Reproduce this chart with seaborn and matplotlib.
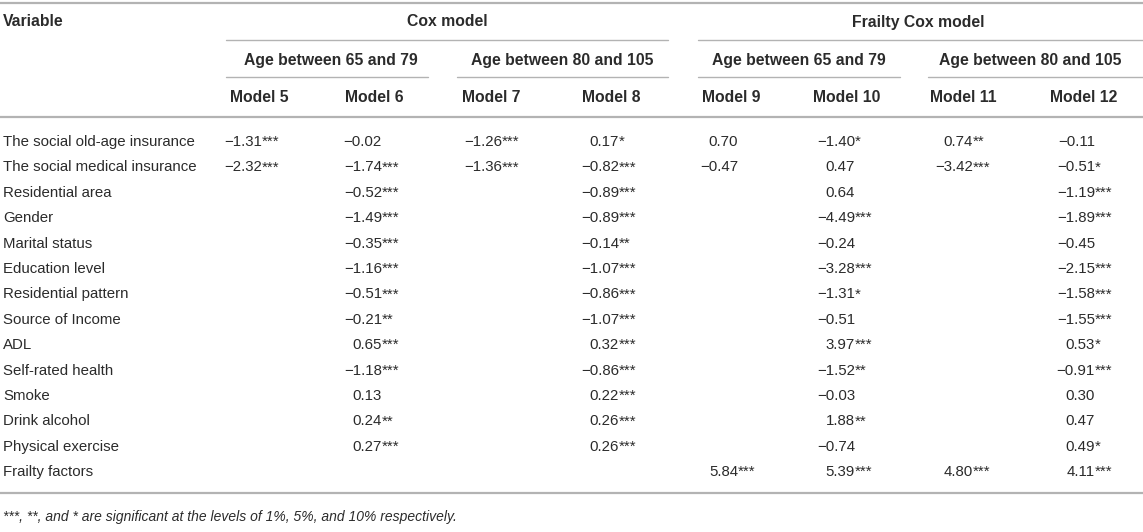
import matplotlib
matplotlib.use("Agg")
import matplotlib.pyplot as plt
import seaborn as sns
import pandas as pd

sns.set_theme(style="white")
plt.rcParams['font.family'] = ['Liberation Sans', 'DejaVu Sans']

# 표 데이터
variables = [
    'The social old-age insurance', 'The social medical insurance',
    'Residential area', 'Gender', 'Marital status', 'Education level',
    'Residential pattern', 'Source of Income', 'ADL', 'Self-rated health',
    'Smoke', 'Drink alcohol', 'Physical exercise', 'Frailty factors',
]
models = ['Model 5', 'Model 6', 'Model 7', 'Model 8',
          'Model 9', 'Model 10', 'Model 11', 'Model 12']

model5 = ['−1.31***', '−2.32***', '', '', '', '', '', '', '', '', '', '', '', '']
model6 = ['−0.02', '−1.74***', '−0.52***', '−1.49***', '−0.35***', '−1.16***',
          '−0.51***', '−0.21**', '0.65***', '−1.18***', '0.13', '0.24**', '0.27***', '']
model7 = ['−1.26***', '−1.36***', '', '', '', '', '', '', '', '', '', '', '', '']
model8 = ['0.17*', '−0.82***', '−0.89***', '−0.89***', '−0.14**', '−1.07***',
          '−0.86***', '−1.07***', '0.32***', '−0.86***', '0.22***', '0.26***', '0.26***', '']
model9 = ['0.70', '−0.47', '', '', '', '', '', '', '', '', '', '', '', '5.84***']
model10 = ['−1.40*', '0.47', '0.64', '−4.49***', '−0.24', '−3.28***',
           '−1.31*', '−0.51', '3.97***', '−1.52**', '−0.03', '1.88**', '−0.74', '5.39***']
model11 = ['0.74**', '−3.42***', '', '', '', '', '', '', '', '', '', '', '', '4.80***']
model12 = ['−0.11', '−0.51*', '−1.19***', '−1.89***', '−0.45', '−2.15***',
           '−1.58***', '−1.55***', '0.53*', '−0.91***', '0.30', '0.47', '0.49*', '4.11***']

df = pd.DataFrame({'Variable': variables, 'Model 5': model5, 'Model 6': model6,
                   'Model 7': model7, 'Model 8': model8, 'Model 9': model9,
                   'Model 10': model10, 'Model 11': model11, 'Model 12': model12})

# 레이아웃 (픽셀 좌표)
W, H = 1143, 532
fig = plt.figure(figsize=(W / 100, H / 100), dpi=100)
ax = fig.add_axes([0, 0, 1, 1])
ax.set_xlim(0, W)
ax.set_ylim(H, 0)
ax.axis('off')

line_c = '#b3b3b3'
txt_c = '#2b2b2b'
fs = 11.3
fs_body = 10.8
header_x = [230, 345, 462, 582, 702, 813, 930, 1050]
num_right = [262, 382, 502, 619, 738, 855, 973, 1095]
row_y0, row_dy = 142, 25.4

# 선
ax.plot([0, W], [3, 3], color=line_c, lw=1.6)
ax.plot([226, 668], [40, 40], color=line_c, lw=1)
ax.plot([698, W], [40, 40], color=line_c, lw=1)
for x0, x1 in [(226, 428), (457, 668), (698, 900), (928, W)]:
    ax.plot([x0, x1], [77, 77], color=line_c, lw=1)
ax.plot([0, W], [117, 117], color=line_c, lw=1.6)
ax.plot([0, W], [493, 493], color=line_c, lw=1.6)

# 헤더
ax.text(3, 22, 'Variable', fontsize=fs, fontweight='bold', color=txt_c, va='center')
ax.text(447, 22, 'Cox model', fontsize=fs, fontweight='bold', color=txt_c, va='center', ha='center')
ax.text(918, 22, 'Frailty Cox model', fontsize=fs, fontweight='bold', color=txt_c, va='center', ha='center')
for cx, lab in zip([331, 562, 799, 1030],
                   ['Age between 65 and 79', 'Age between 80 and 105'] * 2):
    ax.text(cx, 60, lab, fontsize=fs, fontweight='bold', color=txt_c, va='center', ha='center')
for x, m in zip(header_x, models):
    ax.text(x, 97, m, fontsize=fs, fontweight='bold', color=txt_c, va='center')

# 본문
for i, row in df.iterrows():
    y = row_y0 + i * row_dy
    ax.text(3, y, row['Variable'], fontsize=fs_body, color=txt_c, va='center')
    for xr, m in zip(num_right, models):
        val = row[m]
        if not val:
            continue
        num = val.rstrip('*')
        stars = val[len(num):]
        ax.text(xr, y, num, fontsize=fs_body, color=txt_c, va='center', ha='right')
        if stars:
            ax.text(xr, y, stars, fontsize=fs_body, color=txt_c, va='center', ha='left')

ax.text(3, 517, '***, **, and * are significant at the levels of 1%, 5%, and 10% respectively.',
        fontsize=10, style='italic', color=txt_c, va='center')

fig.savefig('out.png', dpi=100)
